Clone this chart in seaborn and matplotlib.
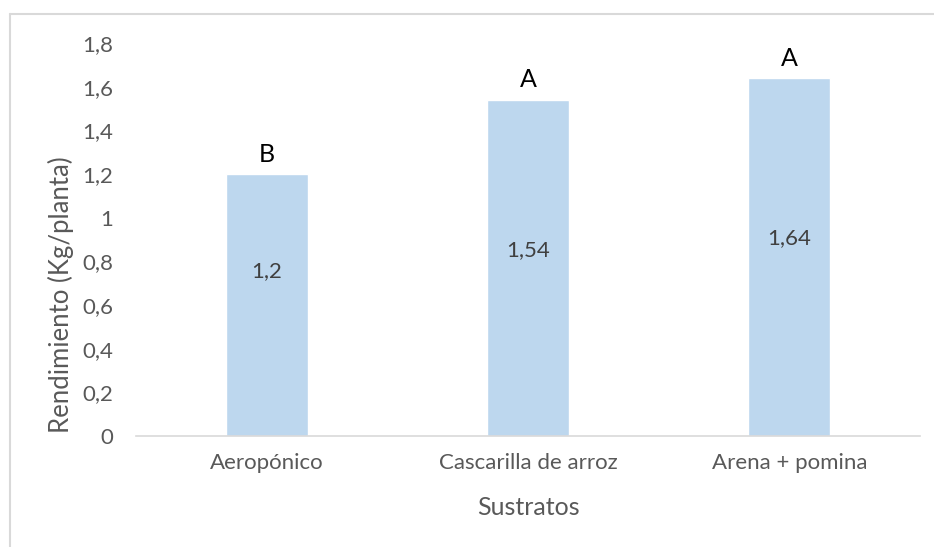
import matplotlib
matplotlib.use("Agg")
import matplotlib.pyplot as plt
from matplotlib.lines import Line2D
import pandas as pd
import seaborn as sns

sustratos = ["Aeropónico", "Cascarilla de arroz", "Arena + pomina"]
rendimiento = [1.2, 1.54, 1.64]
valor_txt = ["1,2", "1,54", "1,64"]
letras = ["B", "A", "A"]
yticks = [0, 0.2, 0.4, 0.6, 0.8, 1, 1.2, 1.4, 1.6, 1.8]
ytick_labels = ["0", "0,2", "0,4", "0,6", "0,8", "1", "1,2", "1,4", "1,6", "1,8"]

df = pd.DataFrame({"sustrato": sustratos, "rend": rendimiento})

sns.set_style("white")
plt.rcParams["font.family"] = ["Lato", "DejaVu Sans"]

fig = plt.figure(figsize=(9.34, 5.47), dpi=100)
ax = fig.add_axes([0.1456, 0.2029, 0.8394, 0.7185])

sns.barplot(data=df, x="sustrato", y="rend", color="#BDD7EE", saturation=1,
            width=0.314, ax=ax)

ax.set_ylim(0, 1.8)
ax.set_xlim(-0.5, 2.5)
ax.set_yticks(yticks)
ax.set_yticklabels(ytick_labels, fontsize=16, color="#595959")
ax.tick_params(axis="y", length=0, pad=16.5)
ax.tick_params(axis="x", length=0, pad=12, labelsize=16, labelcolor="#595959")

# category boundary ticks
ax.set_xticks([-0.5, 0.5, 1.5, 2.5], minor=True)
ax.tick_params(axis="x", which="minor", length=6, color="#D9D9D9", width=1)

for s in ["top", "right", "left"]:
    ax.spines[s].set_visible(False)
ax.spines["bottom"].set_color("#D9D9D9")
ax.spines["bottom"].set_linewidth(1.2)

ax.set_xlabel("Sustratos", fontsize=18, color="#595959")
ax.set_ylabel("Rendimiento (Kg/planta)", fontsize=18.5, color="#595959")
ax.xaxis.set_label_coords(0.5, -0.153)
ax.yaxis.set_label_coords(-0.079, 0.36)

label_frac = [0.63, 0.553, 0.553]
for i, (v, t, l) in enumerate(zip(rendimiento, valor_txt, letras)):
    ax.text(i, v * label_frac[i], t, ha="center", va="center",
            fontsize=16, color="#404040")
    ax.annotate(l, (i, v), xytext=(0, 6), textcoords="offset points",
                ha="center", va="bottom", fontsize=18, color="black")

# chart area frame (top and left visible)
fig.add_artist(Line2D([0.0107, 1.0], [0.9744, 0.9744], transform=fig.transFigure,
                      color="#D9D9D9", lw=1.5))
fig.add_artist(Line2D([0.0107, 0.0107], [0.0, 0.9744], transform=fig.transFigure,
                      color="#D9D9D9", lw=1.5))

fig.savefig("out.png", dpi=100)
